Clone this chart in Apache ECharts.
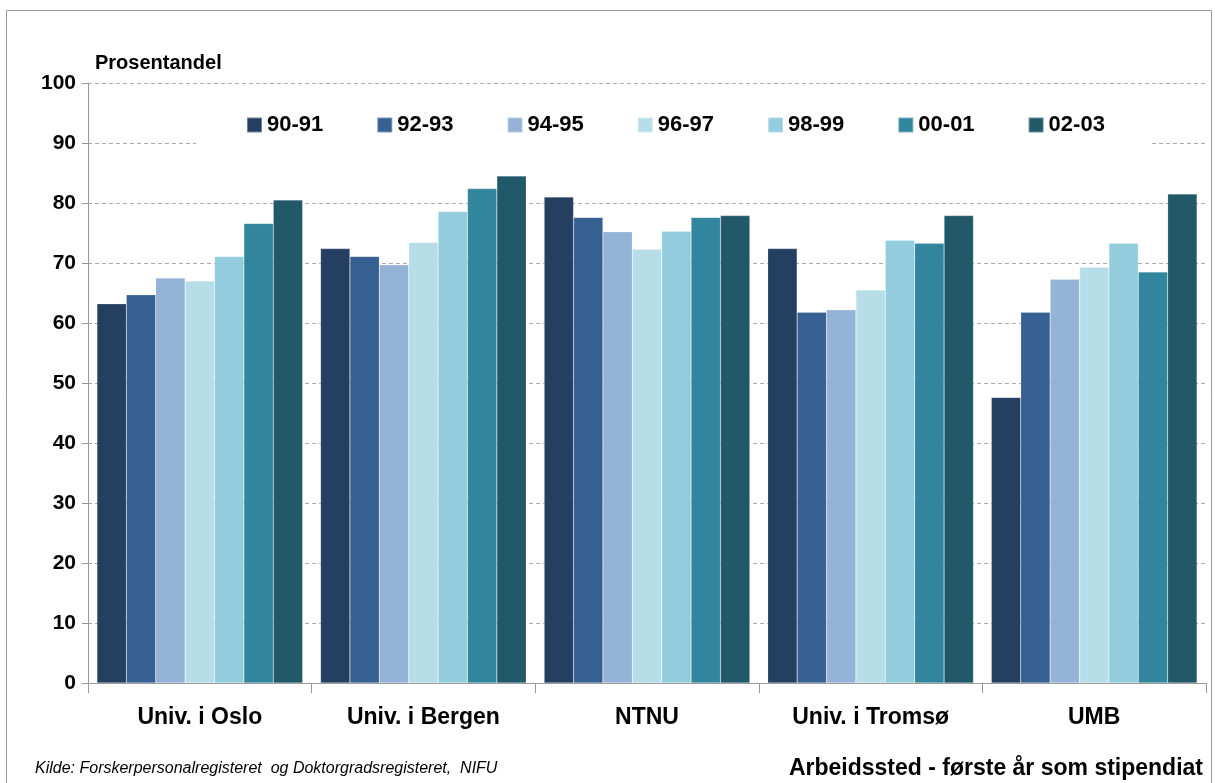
<!DOCTYPE html>
<html>
<head>
<meta charset="utf-8">
<script src="https://cdn.jsdelivr.net/npm/echarts@6/dist/echarts.min.js"></script>
<style>
  html, body { margin: 0; padding: 0; background: #fff; }
  #chart { width: 1215px; height: 783px; }
</style>
</head>
<body>
<div id="chart"></div>
<script>
// Arbeidssted - første år som stipendiat
const categories = ["Univ. i Oslo", "Univ. i Bergen", "NTNU", "Univ. i Tromsø", "UMB"];
const periods = ["90-91", "92-93", "94-95", "96-97", "98-99", "00-01", "02-03"];
// en rad per periode, verdier per institusjon (prosent)
const p9091 = [63.2, 72.4, 81.0, 72.4, 47.6];
const p9293 = [64.7, 71.1, 77.6, 61.8, 61.8];
const p9495 = [67.5, 69.7, 75.2, 62.2, 67.3];
const p9697 = [67.0, 73.4, 72.3, 65.5, 69.3];
const p9899 = [71.1, 78.6, 75.3, 73.8, 73.3];
const p0001 = [76.6, 82.4, 77.6, 73.3, 68.5];
const p0203 = [80.5, 84.5, 77.9, 77.9, 81.5];
const yTicks = [0, 10, 20, 30, 40, 50, 60, 70, 80, 90, 100];

const colors = ["#253F61", "#366092", "#95B3D7", "#B7DEE8", "#93CDDD", "#31859C", "#215968"];
const seriesValues = [p9091, p9293, p9495, p9697, p9899, p0001, p0203];

const font = "'Liberation Sans', Arial, sans-serif";

const chart = echarts.init(document.getElementById("chart"));

const option = {
  animation: false,
  color: colors,
  textStyle: { fontFamily: font },
  grid: { left: 88, right: 9, top: 83, bottom: 100 },
  legend: {
    data: periods,
    top: 98,
    left: 196,
    itemWidth: 15,
    itemHeight: 15,
    itemGap: 53,
    icon: "rect",
    backgroundColor: "#fff",
    padding: [16, 46, 16, 50],
    textStyle: { fontSize: 22, fontWeight: "bold", color: "#000", fontFamily: font }
  },
  xAxis: {
    type: "category",
    data: categories,
    axisLine: { lineStyle: { color: "#999", width: 1 } },
    axisTick: { show: true, length: 10, lineStyle: { color: "#999" } },
    axisLabel: { fontSize: 23, fontWeight: "bold", color: "#000", margin: 23, fontFamily: font }
  },
  yAxis: {
    type: "value",
    min: yTicks[0],
    max: yTicks[yTicks.length - 1],
    interval: 10,
    name: "Prosentandel",
    nameLocation: "end",
    nameGap: 10,
    nameTextStyle: { fontSize: 20, fontWeight: "bold", color: "#000", align: "left", padding: [0, 0, 0, 7], fontFamily: font },
    axisLine: { show: true, lineStyle: { color: "#999" } },
    axisTick: { show: true, length: 6, lineStyle: { color: "#999" } },
    axisLabel: { fontSize: 21, fontWeight: "bold", color: "#000", margin: 12, fontFamily: font },
    splitLine: { show: true, lineStyle: { color: "#aaa", type: [4, 3] } }
  },
  series: periods.map((p, i) => ({
    name: p,
    type: "bar",
    data: seriesValues[i],
    barGap: "0%",
    barCategoryGap: "8%",
    itemStyle: { color: colors[i], borderColor: "rgba(255,255,255,0.35)", borderWidth: 0.5 }
  })),
  graphic: [
    {
      type: "rect",
      shape: { x: 6.5, y: 10.5, width: 1205, height: 800 },
      style: { fill: "none", stroke: "#999", lineWidth: 1 },
      silent: true
    },
    {
      type: "text",
      left: 35,
      top: 761,
      style: {
        text: "Kilde: Forskerpersonalregisteret  og Doktorgradsregisteret,  NIFU",
        font: "italic 16px " + font,
        fill: "#000"
      }
    },
    {
      type: "text",
      right: 12,
      top: 757,
      style: {
        text: "Arbeidssted - første år som stipendiat",
        font: "bold 23px " + font,
        fill: "#000"
      }
    }
  ]
};

chart.setOption(option);
</script>
</body>
</html>
